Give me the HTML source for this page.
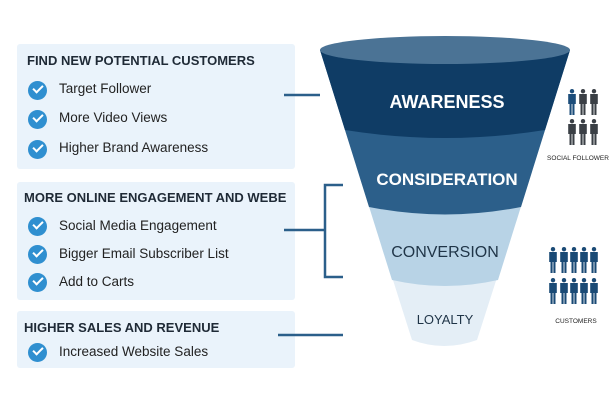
<!DOCTYPE html>
<html><head><meta charset="utf-8"><style>
body{margin:0;width:612px;height:408px;background:#fff;overflow:hidden;font-family:"Liberation Sans",sans-serif;position:relative}
.box{position:absolute;left:17px;width:278px;background:#eaf3fb;border-radius:3px}
.h{position:absolute;font-weight:bold;font-size:13px;color:#1f2a36;white-space:nowrap}
.it{position:absolute;left:59px;font-size:13.5px;color:#222;white-space:nowrap}
.ck{position:absolute;left:28px;width:19px;height:19px;border-radius:50%;background:#2f8fd0}
.ck:after{content:"";position:absolute;left:5px;top:4px;width:8px;height:4px;border-left:2px solid #fff;border-bottom:2px solid #fff;transform:rotate(-45deg)}
svg{position:absolute;left:0;top:0}
</style></head><body>
<div class="box" style="top:44px;height:125px"></div>
<div class="box" style="top:182px;height:118px"></div>
<div class="box" style="top:311px;height:57px"></div>
<div class="h" style="left:27px;top:53px">FIND NEW POTENTIAL CUSTOMERS</div>
<div class="ck" style="top:81px"></div><div class="it" style="top:81px">Target Follower</div>
<div class="ck" style="top:110px"></div><div class="it" style="top:110px">More Video Views</div>
<div class="ck" style="top:140px"></div><div class="it" style="top:140px">Higher Brand Awareness</div>
<div class="h" style="left:24px;top:190px">MORE ONLINE ENGAGEMENT AND WEBE</div>
<div class="ck" style="top:217px"></div><div class="it" style="top:218px">Social Media Engagement</div>
<div class="ck" style="top:245px"></div><div class="it" style="top:246px">Bigger Email Subscriber List</div>
<div class="ck" style="top:273px"></div><div class="it" style="top:274px">Add to Carts</div>
<div class="h" style="left:24px;top:320px">HIGHER SALES AND REVENUE</div>
<div class="ck" style="top:343px"></div><div class="it" style="top:344px">Increased Website Sales</div>
<svg width="612" height="408" viewBox="0 0 612 408">
<defs>
<g id="p"><circle cx="0" cy="2.2" r="2.2"/><path d="M-3.8 5h7.6v10h-1.3v11h-2.1v-11h-0.8v11h-2.1v-11h-1.3z"/></g>
</defs>
<g stroke="#2b5f8a" stroke-width="2.5" fill="none">
<line x1="284" y1="95" x2="320" y2="95"/>
<line x1="284" y1="230" x2="325" y2="230"/>
<path d="M343 185H325V277H343"/>
<line x1="278" y1="335" x2="343" y2="335"/>
</g>
<path d="M320 50L412 340Q444 352 477 340L570 50Z" fill="#e4eef6"/>
<path d="M320 50L392 280Q445 292 498 280L570 50Z" fill="#b8d3e6"/>
<path d="M320 50L369 207Q445 222 521 207L570 50Z" fill="#2c5f8a"/>
<path d="M320 50L345 130Q445 146 545 130L570 50Z" fill="#0f3c65"/>
<ellipse cx="445" cy="50" rx="125" ry="14" fill="#4b7395"/>
<g font-family="Liberation Sans,sans-serif" text-anchor="middle">
<text x="447" y="108" font-size="18" font-weight="bold" fill="#fff">AWARENESS</text>
<text x="447" y="185" font-size="17" font-weight="bold" fill="#fff">CONSIDERATION</text>
<text x="445" y="257" font-size="16" fill="#1f3447">CONVERSION</text>
<text x="445" y="324" font-size="13" fill="#1f3447">LOYALTY</text>
<text x="578" y="160" font-size="6.5" fill="#222">SOCIAL FOLLOWER</text>
<text x="576" y="323" font-size="6.5" fill="#222">CUSTOMERS</text>
</g>
<g fill="#3a3f45">
<use href="#p" x="572" y="89" fill="#1c4d7a"/><use href="#p" x="583" y="89"/><use href="#p" x="594" y="89"/>
<use href="#p" x="572" y="119"/><use href="#p" x="583" y="119"/><use href="#p" x="594" y="119"/>
</g>
<g fill="#1a4a75">
<use href="#p" x="553" y="247"/><use href="#p" x="564" y="247"/><use href="#p" x="574" y="247"/><use href="#p" x="584" y="247"/><use href="#p" x="594" y="247"/>
<use href="#p" x="553" y="278"/><use href="#p" x="564" y="278"/><use href="#p" x="574" y="278"/><use href="#p" x="584" y="278"/><use href="#p" x="594" y="278"/>
</g>
</svg>
</body></html>
